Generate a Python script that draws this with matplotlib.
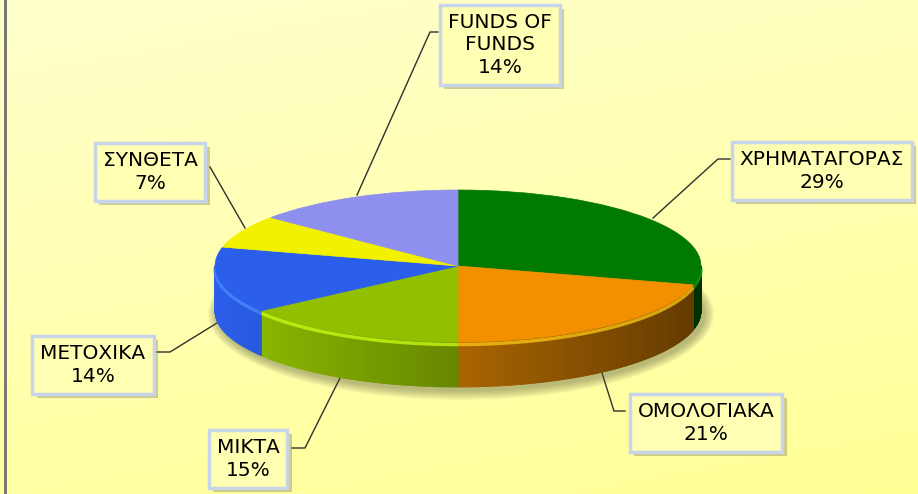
import numpy as np
import matplotlib
matplotlib.use("Agg")
import matplotlib.pyplot as plt
from matplotlib.patches import Wedge, Ellipse
from matplotlib.collections import PolyCollection
from matplotlib.transforms import Affine2D
import matplotlib.patheffects as pe
from matplotlib.colors import to_rgb

# ---- data ----
categories = ["ΧΡΗΜΑΤΑΓΟΡΑΣ", "ΟΜΟΛΟΓΙΑΚΑ", "ΜΙΚΤΑ", "ΜΕΤΟΧΙΚΑ", "ΣΥΝΘΕΤΑ", "FUNDS OF\nFUNDS"]
values = [29, 21, 15, 14, 7, 14]
colors = ["#007A00", "#F39000", "#92C000", "#2B5EEB", "#F2F200", "#8F8FF0"]

# label box centres and leader line paths (pixel coordinates)
label_pos = [(822, 171), (706, 423), (248, 459), (93, 365), (150, 172), (500, 45)]
leaders = [
    [(653, 218), (718, 159), (730, 159)],
    [(602, 373), (614, 411), (625, 411)],
    [(340, 378), (305, 448), (292, 448)],
    [(217, 323), (170, 352), (157, 352)],
    [(245, 228), (210, 167)],
    [(357, 195), (430, 32), (438, 32)],
]

W, H = 918, 494
fig = plt.figure(figsize=(9.18, 4.94), dpi=100)
ax = fig.add_axes([0, 0, 1, 1])
ax.set_xlim(0, W)
ax.set_ylim(H, 0)
ax.axis('off')

# background gradient
yy = np.linspace(0, 1, 200)[:, None]
xx = np.linspace(0, 1, 200)[None, :]
tt = np.clip(0.75 * yy + 0.25 * xx, 0, 1)
ctop = np.array([255, 255, 204]) / 255
cbot = np.array([255, 255, 150]) / 255
img = ctop[None, None, :] * (1 - tt[..., None]) + cbot[None, None, :] * tt[..., None]
ax.imshow(img, extent=[0, W, H, 0], aspect='auto', zorder=0)
ax.plot([5, 5], [0, H], color='#707070', lw=2, zorder=1)

# pie geometry
cx, cy, rx, ry, depth = 458, 266, 243, 76, 45
total = float(sum(values))
bounds = np.concatenate([[0], np.cumsum(values)]) / total * 360.0

# leader lines
for pts in leaders:
    p = np.array(pts)
    ax.plot(p[:, 0], p[:, 1], color='#303030', lw=1, zorder=2)

# shadow
for d in range(10, 0, -1):
    ax.add_patch(Ellipse((cx + 3, cy + depth + 3), 2 * (rx + d), 2 * (ry + d),
                         facecolor='#606040', edgecolor='none', alpha=0.05, zorder=3))


def pt(t, dy=0.0):
    r = np.radians(t)
    return cx + rx * np.sin(r), cy - ry * np.cos(r) + dy


def shade(x):
    return 1.0 - 0.6 * (x - (cx - rx)) / (2 * rx)


# side walls
polys, fcs = [], []
rims = []
for a0, a1, col in zip(bounds[:-1], bounds[1:], colors):
    s0, s1 = max(a0, 90), min(a1, 270)
    if s1 <= s0:
        continue
    n = max(int((s1 - s0) / 0.5), 2)
    ts = np.linspace(s0, s1, n + 1)
    base = np.array(to_rgb(col))
    for ta, tb in zip(ts[:-1], ts[1:]):
        xa, ya = pt(ta)
        xb, yb = pt(tb)
        polys.append([(xa, ya), (xb, yb), (xb, yb + depth), (xa, ya + depth)])
        f = shade((xa + xb) / 2)
        fcs.append(np.clip(base * f, 0, 1))
    rx_, ry_ = pt(ts)
    rims.append((rx_, ry_, np.clip(base * 1.25 + 0.08, 0, 1)))
pc = PolyCollection(polys, facecolors=fcs, edgecolors=fcs, linewidths=0.6, zorder=4)
ax.add_collection(pc)
for rxs, rys, c in rims:
    ax.plot(rxs, rys + 2.5, color=c, lw=2.5, alpha=0.75, zorder=5, solid_capstyle='butt')

# top faces
tr = Affine2D().scale(rx, ry).translate(cx, cy) + ax.transData
for a0, a1, col in zip(bounds[:-1], bounds[1:], colors):
    w = Wedge((0, 0), 1, a0 - 90, a1 - 90, facecolor=col, edgecolor=col, lw=0.5,
              transform=tr, zorder=6)
    ax.add_patch(w)

# labels
for (x, y), cat, v in zip(label_pos, categories, values):
    t = ax.text(x, y, f"{cat}\n{v}%", ha='center', va='center', fontsize=14.5,
                family='DejaVu Sans', color='black', linespacing=1.25, zorder=10,
                bbox=dict(boxstyle='square,pad=0.4', facecolor='#FFFFB4',
                          edgecolor='#C8D4EA', linewidth=2.5))
    t.get_bbox_patch().set_path_effects([
        pe.SimplePatchShadow(offset=(3, -3), shadow_rgbFace='#707050', alpha=0.35),
        pe.Normal()])

fig.savefig("out.png", dpi=100)
